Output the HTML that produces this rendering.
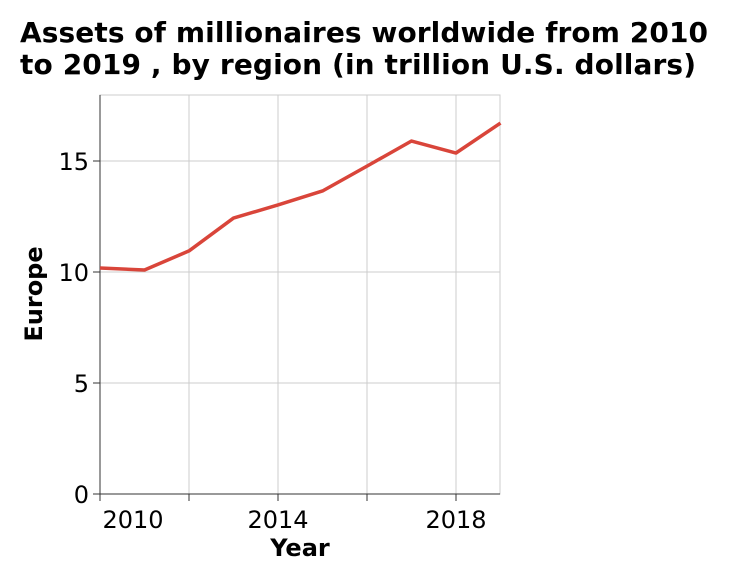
<!DOCTYPE html>
<html><head><meta charset="utf-8"><style>
body{margin:0;background:#fff;font-family:"Liberation Sans","DejaVu Sans",sans-serif;}
svg text{font-family:"DejaVu Sans","Liberation Sans",sans-serif;}
</style></head><body>
<svg width="730" height="580">
<text x="20" y="42" font-size="28" font-weight="bold" fill="#000" textLength="688">Assets of millionaires worldwide from 2010</text>
<text x="20" y="74" font-size="28" font-weight="bold" fill="#000" textLength="676">to 2019 , by region (in trillion U.S. dollars)</text>
<g id="grid"></g><g id="axes"></g><g id="series"></g>
<text x="300" y="556" font-size="24" font-weight="bold" text-anchor="middle">Year</text>
<text transform="translate(42,294) rotate(-90)" font-size="24" font-weight="bold" text-anchor="middle">Europe</text>
</svg>
<script>
const years=[2010,2011,2012,2013,2014,2015,2016,2017,2018,2019];
const values=[10.18,10.09,10.95,12.43,13.02,13.65,14.77,15.9,15.36,16.71];
const xTicks=[2010,2012,2014,2016,2018];
const xLabels=["2010","","2014","","2018"];
const yTicks=[0,5,10,15];
const NS="http://www.w3.org/2000/svg";
const x=v=>100+(v-2010)*44.5;
const y=v=>494-v*22.2;
function mk(t,a,p){const e=document.createElementNS(NS,t);for(const k in a)e.setAttribute(k,a[k]);p.appendChild(e);return e;}
const g=document.getElementById('grid'),ax=document.getElementById('axes'),s=document.getElementById('series');
mk('rect',{x:100,y:95,width:400,height:399,fill:'none',stroke:'#ccc'},g);
xTicks.forEach((t,i)=>{
 const l=mk('line',{x1:x(t),x2:x(t),y1:95,y2:494,stroke:'#ccc'},g);
 
 
 mk('line',{x1:x(t),x2:x(t),y1:494,y2:501,stroke:'#333'},ax);
 if(xLabels[i]){const tx=mk('text',{x:i==0?x(t)+33:x(t),y:528,'font-size':24,'text-anchor':'middle'},ax);tx.textContent=xLabels[i];
 
 }
});
yTicks.forEach(t=>{
 const l=mk('line',{x1:100,x2:500,y1:y(t),y2:y(t),stroke:'#ccc'},g);
 
 
 mk('line',{x1:93,x2:100,y1:y(t),y2:y(t),stroke:'#333'},ax);
 const tx=mk('text',{x:89,y:y(t)+9,'font-size':24,'text-anchor':'end'},ax);tx.textContent=t;
 
 
});
mk('line',{x1:100,x2:100,y1:95,y2:494,stroke:'#333'},ax);
mk('line',{x1:100,x2:500,y1:494,y2:494,stroke:'#333'},ax);
const p=mk('polyline',{points:years.map((yr,i)=>x(yr)+','+y(values[i])).join(' '),fill:'none',stroke:'#d9453a','stroke-width':3.5,'stroke-linejoin':'round'},s);


</script>
</body></html>
